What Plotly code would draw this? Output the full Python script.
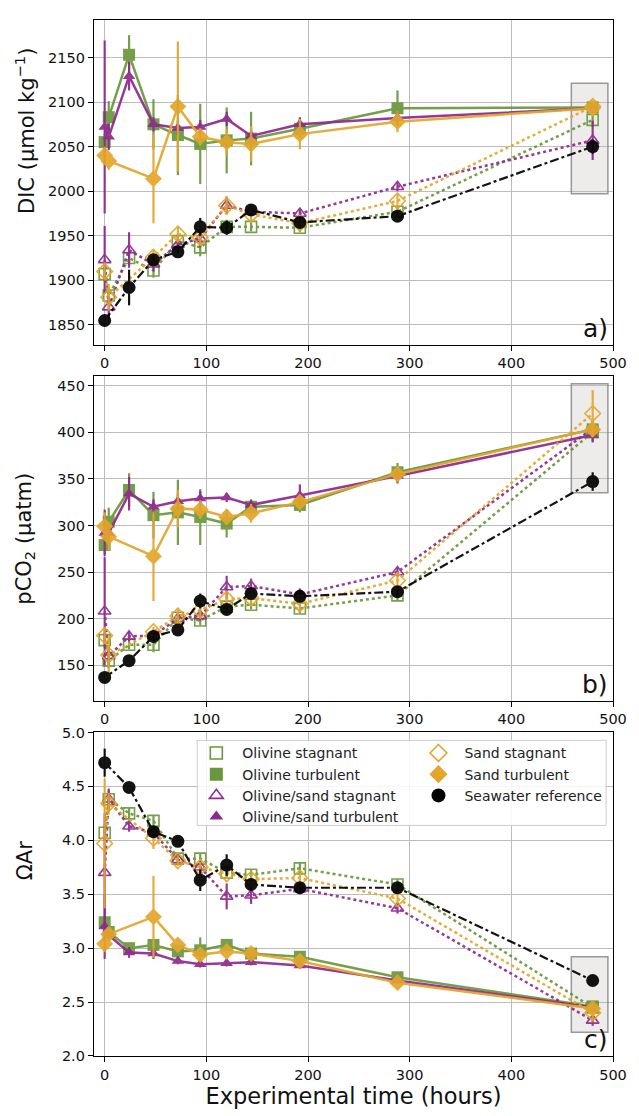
import plotly.graph_objects as go
from plotly.subplots import make_subplots

# ---------------- data ----------------
T = [0, 4, 24, 48, 72, 94, 120, 144, 192, 288, 480]
T_SAND = [0, 4, 48, 72, 94, 120, 144, 192, 288, 480]
T_SW = [0, 24, 48, 72, 94, 120, 144, 192, 288, 480]

# Panel a: DIC
dic_os = [1907, 1883, 1925, 1911, 1944, 1937, 1960, 1960, 1959, 1977, 2080]
dic_os_err = [8, 8, 8, 8, 8, 10, 8, 5, 5, 5, 8]
dic_ot = [2055, 2083, 2153, 2075, 2063, 2053, 2057, 2059, 2070, 2093, 2094]
dic_ot_err = [10, 18, 22, 28, 45, 45, 37, 30, 10, 20, 5]
dic_ps = [1923, 1870, 1934, 1918, 1940, 1947, 1984, 1977, 1975, 2005, 2057]
dic_ps_err = [38, 12, 20, 8, 10, 10, 10, 5, 5, 5, 22]
dic_pt = [2072, 2061, 2129, 2075, 2071, 2072, 2081, 2062, 2075, 2082, 2093]
dic_pt_err = [97, 15, 16, 8, 8, 8, 8, 8, 8, 8, 5]
dic_ss = [1910, 1881, 1926, 1952, 1948, 1984, 1974, 1964, 1989, 2095]
dic_ss_err = [10, 15, 8, 8, 8, 10, 8, 8, 8, 5]
dic_st = [2040, 2034, 2014, 2095, 2061, 2055, 2053, 2064, 2078, 2093]
dic_st_err = [10, 10, 50, 73, 10, 15, 20, 17, 12, 5]
dic_sw = [1855, 1892, 1923, 1932, 1960, 1959, 1979, 1965, 1972, 2050]
dic_sw_err = [5, 20, 5, 5, 10, 8, 5, 5, 5, 8]

# Panel b: pCO2
pco2_os = [177, 155, 172, 172, 201, 198, 213, 215, 211, 225, 400]
pco2_os_err = [8, 8, 5, 8, 5, 5, 5, 5, 5, 5, 10]
pco2_ot = [279, 304, 338, 311, 314, 309, 302, 320, 322, 357, 403]
pco2_ot_err = [10, 15, 18, 25, 35, 30, 15, 8, 8, 10, 8]
pco2_ps = [208, 160, 181, 182, 200, 203, 234, 235, 226, 250, 404]
pco2_ps_err = [58, 10, 5, 5, 5, 5, 12, 8, 5, 5, 8]
pco2_pt = [292, 292, 334, 320, 326, 329, 330, 322, 332, 353, 397]
pco2_pt_err = [25, 10, 18, 8, 8, 8, 5, 5, 12, 8, 8]
pco2_ss = [182, 161, 186, 203, 209, 221, 222, 216, 241, 420]
pco2_ss_err = [8, 20, 5, 8, 8, 8, 8, 8, 8, 25]
pco2_st = [299, 288, 267, 318, 317, 309, 313, 325, 355, 403]
pco2_st_err = [15, 15, 48, 20, 10, 8, 10, 8, 8, 8]
pco2_sw = [137, 155, 181, 188, 219, 210, 227, 224, 229, 347]
pco2_sw_err = [5, 5, 5, 5, 8, 5, 5, 5, 5, 10]

# Panel c: Omega Ar
om_os = [4.07, 4.38, 4.25, 4.18, 3.83, 3.83, 3.70, 3.68, 3.74, 3.59, 2.45]
om_os_err = [0.08, 0.08, 0.05, 0.05, 0.05, 0.05, 0.05, 0.05, 0.05, 0.05, 0.05]
om_ot = [3.24, 3.15, 3.00, 3.03, 2.97, 2.98, 3.03, 2.95, 2.92, 2.73, 2.46]
om_ot_err = [0.05, 0.05, 0.05, 0.05, 0.05, 0.12, 0.05, 0.03, 0.03, 0.03, 0.03]
om_ps = [3.70, 4.38, 4.13, 4.07, 3.82, 3.75, 3.48, 3.49, 3.55, 3.37, 2.33]
om_ps_err = [0.55, 0.1, 0.05, 0.05, 0.05, 0.05, 0.12, 0.08, 0.05, 0.05, 0.05]
om_pt = [3.20, 3.12, 2.96, 2.95, 2.88, 2.85, 2.86, 2.87, 2.84, 2.70, 2.45]
om_pt_err = [0.3, 0.05, 0.05, 0.05, 0.03, 0.03, 0.03, 0.03, 0.03, 0.03, 0.03]
om_ss = [3.97, 4.34, 4.02, 3.81, 3.75, 3.69, 3.64, 3.65, 3.46, 2.40]
om_ss_err = [0.6, 0.1, 0.1, 0.05, 0.05, 0.05, 0.05, 0.05, 0.05, 0.08]
om_st = [3.04, 3.13, 3.29, 3.03, 2.94, 2.97, 2.95, 2.88, 2.68, 2.44]
om_st_err = [0.05, 0.05, 0.38, 0.05, 0.05, 0.03, 0.03, 0.03, 0.03, 0.03]
om_sw = [4.72, 4.49, 4.08, 3.99, 3.63, 3.77, 3.59, 3.56, 3.56, 2.70]
om_sw_err = [0.13, 0.03, 0.03, 0.03, 0.1, 0.1, 0.03, 0.05, 0.03, 0.02]

SERIES_NAMES = ["Olivine stagnant", "Olivine turbulent", "Olivine/sand stagnant",
                "Olivine/sand turbulent", "Sand stagnant", "Sand turbulent",
                "Seawater reference"]
X_TICKS = [0, 100, 200, 300, 400, 500]

# ---------------- styles ----------------
GREEN = "#6a973b"
PURPLE = "#8e2a8e"
ORANGE = "#e3a62b"
BLACK = "#000000"
FONT = "DejaVu Sans"

styles = {
    "Olivine stagnant": dict(color=GREEN, symbol="square-open", size=11, dash="dot", t=T),
    "Olivine turbulent": dict(color=GREEN, symbol="square", size=12, dash="solid", t=T),
    "Olivine/sand stagnant": dict(color=PURPLE, symbol="triangle-up-open", size=11, dash="dot", t=T),
    "Olivine/sand turbulent": dict(color=PURPLE, symbol="triangle-up", size=11, dash="solid", t=T),
    "Sand stagnant": dict(color=ORANGE, symbol="diamond-open", size=12, dash="dot", t=T_SAND),
    "Sand turbulent": dict(color=ORANGE, symbol="diamond", size=13, dash="solid", t=T_SAND),
    "Seawater reference": dict(color=BLACK, symbol="circle", size=13, dash="dashdot", t=T_SW),
}

panels = [
    [(dic_os, dic_os_err), (dic_ot, dic_ot_err), (dic_ps, dic_ps_err), (dic_pt, dic_pt_err),
     (dic_ss, dic_ss_err), (dic_st, dic_st_err), (dic_sw, dic_sw_err)],
    [(pco2_os, pco2_os_err), (pco2_ot, pco2_ot_err), (pco2_ps, pco2_ps_err), (pco2_pt, pco2_pt_err),
     (pco2_ss, pco2_ss_err), (pco2_st, pco2_st_err), (pco2_sw, pco2_sw_err)],
    [(om_os, om_os_err), (om_ot, om_ot_err), (om_ps, om_ps_err), (om_pt, om_pt_err),
     (om_ss, om_ss_err), (om_st, om_st_err), (om_sw, om_sw_err)],
]

fig = make_subplots(rows=3, cols=1)

for r, panel in enumerate(panels, start=1):
    for name, (vals, errs) in zip(SERIES_NAMES, panel):
        s = styles[name]
        open_marker = s["symbol"].endswith("open")
        fig.add_trace(go.Scatter(
            x=s["t"], y=vals, mode="lines+markers", name=name, showlegend=False,
            opacity=0.92,
            line=dict(color=s["color"], width=2.5 if name != "Seawater reference" else 2.2,
                      dash=s["dash"]),
            marker=dict(color=s["color"], symbol=s["symbol"], size=s["size"],
                        line=dict(width=1.6 if open_marker else 0, color=s["color"])),
            error_y=dict(type="data", array=errs, thickness=2.2, width=0, color=s["color"]),
        ), row=r, col=1)

# legend-only entries (markers only)
for i, name in enumerate(SERIES_NAMES):
    s = styles[name]
    open_marker = s["symbol"].endswith("open")
    fig.add_trace(go.Scatter(
        x=[None], y=[None], mode="markers", name=name, showlegend=True,
        legend="legend" if i in (0, 1, 2, 3) else "legend2",
        legendgroup=name, legendrank=[0, 1, 2, 3, 0, 1, 2][i],
        marker=dict(color=s["color"], symbol=s["symbol"], size=s["size"] + 1,
                    line=dict(width=1.6 if open_marker else 0, color=s["color"])),
    ), row=3, col=1)

# ---------------- layout ----------------
H = 1116
top_px, bot_px = 15, 1062
ph = bot_px - top_px
def dom(y0, y1):
    return [(bot_px - y1) / ph, (bot_px - y0) / ph]

domains = [dom(15, 343), dom(375, 703), dom(735, 1062)]
y_ranges = [[1828, 2192], [112, 460], [2.0, 5.0]]
y_ticks = [[1850, 1900, 1950, 2000, 2050, 2100, 2150],
           [150, 200, 250, 300, 350, 400, 450],
           [2.0, 2.5, 3.0, 3.5, 4.0, 4.5, 5.0]]
y_titles = ["DIC (μmol kg<sup>−1</sup>)", "pCO<sub>2</sub> (μatm)", "ΩAr"]
y_title_px = [127, 539, 865]
boxes = [[459, 495, 1997, 2121], [459, 495, 335, 452], [459, 495, 2.22, 2.92]]
labels = ["a)", "b)", "c)"]

axis_common = dict(showline=True, linecolor="black", linewidth=1.3, mirror=True,
                   ticks="outside", ticklen=5, tickwidth=1.2, tickcolor="black",
                   showgrid=True, gridcolor="#bdbdbd", gridwidth=1.3, zeroline=False,
                   tickfont=dict(family=FONT, size=14.5, color="#111"))

for i in range(3):
    xn = "xaxis" if i == 0 else f"xaxis{i+1}"
    yn = "yaxis" if i == 0 else f"yaxis{i+1}"
    fig.layout[xn].update(range=[-10.5, 500], tickvals=X_TICKS, domain=[0, 1], **axis_common)
    fig.layout[yn].update(range=y_ranges[i], tickvals=y_ticks[i], domain=domains[i],
                          tickformat=".1f" if i == 2 else "d", **axis_common)
    # y-axis title as rotated annotation
    fig.add_annotation(text=y_titles[i], xref="paper", yref="paper",
                       x=(24 - 94) / 528, y=(bot_px - y_title_px[i]) / ph,
                       xanchor="center", yanchor="middle", textangle=-90, showarrow=False,
                       font=dict(family=FONT, size=21, color="#111"))
    xr = "x" if i == 0 else f"x{i+1}"
    yr = "y" if i == 0 else f"y{i+1}"
    x0, x1, y0, y1 = boxes[i]
    fig.add_shape(type="rect", xref=xr, yref=yr, x0=x0, x1=x1, y0=y0, y1=y1,
                  fillcolor="rgba(190,185,180,0.28)", line=dict(color="rgba(120,120,120,0.75)", width=1.5),
                  layer="between")
    fig.add_annotation(text=labels[i], xref=f"{xr} domain", yref=f"{yr} domain",
                       x=0.995, y=0.0, xanchor="right", yanchor="bottom", showarrow=False,
                       font=dict(family=FONT, size=25, color="#111"))

fig.layout["xaxis3"].update(title=dict(text="Experimental time (hours)",
                                        font=dict(family=FONT, size=22.5, color="#111"), standoff=6))

# legend background box
fig.add_shape(type="rect", xref="x3 domain", yref="y3 domain",
              x0=(199 - 94) / 528, x1=(615 - 94) / 528,
              y0=(1062 - 829) / 327, y1=(1062 - 743) / 327,
              fillcolor="rgba(255,255,255,0.85)", line=dict(color="#cccccc", width=1),
              layer="above")

leg_common = dict(bgcolor="rgba(0,0,0,0)", borderwidth=0, itemwidth=42, tracegroupgap=0,
                  font=dict(family=FONT, size=14, color="#222"),
                  xanchor="left", yanchor="top", orientation="v", itemclick=False)
fig.update_layout(
    width=639, height=H,
    margin=dict(l=94, r=17, t=top_px, b=H - bot_px),
    paper_bgcolor="white", plot_bgcolor="white",
    font=dict(family=FONT, color="#111"),
    legend=dict(x=(192 - 94) / 528, y=(1062 - 740) / ph, **leg_common),
    legend2=dict(x=(418 - 94) / 528, y=(1062 - 740) / ph, **leg_common),
)

fig.write_html("out.html")
